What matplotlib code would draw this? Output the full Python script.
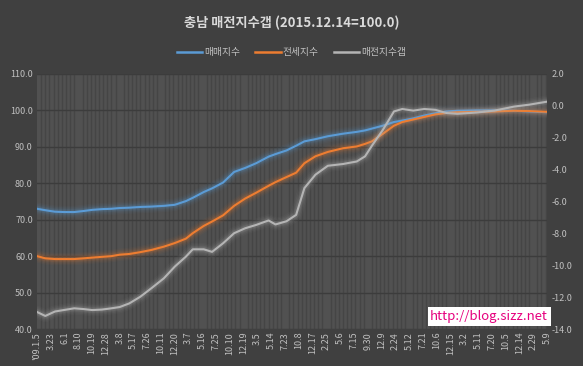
import matplotlib
matplotlib.use("Agg")
import matplotlib.pyplot as plt
from matplotlib.ticker import MultipleLocator

plt.rcParams['font.family'] = ['Noto Sans CJK KR', 'DejaVu Sans']

weeks = [0, 6, 13, 20, 27, 34, 40, 47, 54, 60, 67, 75, 83, 92, 100, 108, 113, 121,
         127, 135, 143, 151, 159, 168, 173, 181, 188, 194, 202, 211, 222, 232, 238,
         243, 251, 259, 265, 273, 281, 289, 297, 305, 319, 332, 346, 357, 370]
sale = [73.0, 72.6, 72.2, 72.1, 72.1, 72.4, 72.7, 72.9, 73.0, 73.2, 73.3, 73.5, 73.6,
        73.8, 74.1, 75.1, 76.0, 77.6, 78.6, 80.2, 83.1, 84.2, 85.5, 87.3, 88.0, 89.0,
        90.3, 91.5, 92.1, 92.9, 93.6, 94.1, 94.5, 95.0, 95.8, 96.8, 97.2, 97.8, 98.6,
        99.2, 99.7, 99.9, 100.0, 100.0, 99.9, 99.7, 99.5]
jeonse = [60.0, 59.4, 59.2, 59.2, 59.2, 59.4, 59.6, 59.8, 60.0, 60.4, 60.6, 61.1, 61.7,
          62.6, 63.6, 64.8, 66.3, 68.3, 69.5, 71.2, 73.8, 75.8, 77.4, 79.3, 80.3, 81.7,
          82.9, 85.5, 87.4, 88.6, 89.6, 90.1, 90.8, 91.5, 93.6, 95.8, 96.8, 97.5, 98.2,
          98.9, 99.3, 99.5, 99.6, 99.7, 99.9, 99.8, 99.6]
gap = [-12.93, -13.18, -12.9, -12.8, -12.7, -12.75, -12.81, -12.78, -12.7, -12.62,
       -12.39, -11.97, -11.44, -10.82, -10.08, -9.46, -9.0, -9.0, -9.16, -8.62, -7.99,
       -7.68, -7.47, -7.19, -7.44, -7.24, -6.84, -5.16, -4.32, -3.76, -3.65, -3.49,
       -3.17, -2.5, -1.5, -0.35, -0.2, -0.3, -0.2, -0.25, -0.45, -0.5, -0.42, -0.3,
       -0.05, 0.07, 0.26]

xlabels = ["'09.1.5", "3.23", "6.1", "8.10", "10.19", "12.28", "3.8", "5.17", "7.26",
           "10.11", "12.20", "3.7", "5.16", "7.25", "10.10", "12.19", "3.5", "5.14",
           "7.23", "10.8", "12.17", "2.25", "5.6", "7.15", "9.30", "12.9", "2.24",
           "5.12", "7.21", "10.6", "12.15", "3.2", "5.11", "7.20", "10.5", "12.14",
           "2.29", "5.9"]

BG = "#404040"
PLOT_BG = "#515151"
TXT = "#c0c0c0"
BLUE, ORANGE, GRAY = "#5b9bd5", "#ed7d31", "#b4b4b4"

fig = plt.figure(figsize=(5.83, 3.66), dpi=100, facecolor=BG)
ax = fig.add_axes([0.0635, 0.101, 0.8747, 0.697])
ax.set_facecolor(PLOT_BG)
ax2 = ax.twinx()

def glow(a, x, y, color):
    # soft Excel-style glow under each line
    for lw, al in [(9, 0.04), (7, 0.06), (5, 0.09), (3.5, 0.13)]:
        a.plot(x, y, color=color, lw=lw, alpha=al, solid_capstyle="round", zorder=3)
    a.plot(x, y, color=color, lw=1.5, zorder=4)

glow(ax, weeks, sale, BLUE)
glow(ax, weeks, jeonse, ORANGE)
glow(ax2, weeks, gap, GRAY)

ax.set_xlim(0, 370)
ax.set_ylim(40, 110)
ax2.set_ylim(-14, 2)
ax.set_yticks(range(40, 111, 10))
ax.set_yticklabels([f"{v:.1f}" for v in range(40, 111, 10)])
ax2.set_yticks(range(-14, 3, 2))
ax2.set_yticklabels([f"{v:.1f}" for v in range(-14, 3, 2)])

ax.set_xticks(range(0, 371, 10))
ax.set_xticklabels(xlabels, rotation=90, va="top", ha="center")
ax.xaxis.set_minor_locator(MultipleLocator(3))
ax.grid(True, which="minor", axis="x", color="#454545", lw=1.0)
ax.grid(True, which="major", axis="y", color="#3c3c3c", lw=1.0)
ax.set_axisbelow(True)

for a in (ax, ax2):
    for s in a.spines.values():
        s.set_visible(False)
    a.tick_params(which="both", length=0, colors=TXT, labelsize=6.5, pad=3)
ax.tick_params(axis="x", pad=2)

fig.text(0.5, 0.937, "충남 매전지수갭 (2015.12.14=100.0)", ha="center", va="center",
         color="#d9d9d9", fontsize=9.5, weight="bold")

# legend row
handles = [plt.Line2D([], [], color=c, lw=1.8) for c in (BLUE, ORANGE, GRAY)]
fig.legend(handles, ["매매지수", "전세지수", "매전지수갭"], loc="center",
           bbox_to_anchor=(0.5, 0.858), ncol=3, frameon=False, fontsize=7,
           labelcolor=TXT, handlelength=2.6, handletextpad=0.2, columnspacing=1.6)

fig.text(0.839, 0.135, "http://blog.sizz.net", ha="center", va="center",
         color="#e6007e", fontsize=9.5,
         bbox=dict(boxstyle="square,pad=0.2", fc="white", ec="none"))

fig.savefig("out.png", dpi=100, facecolor=BG)
